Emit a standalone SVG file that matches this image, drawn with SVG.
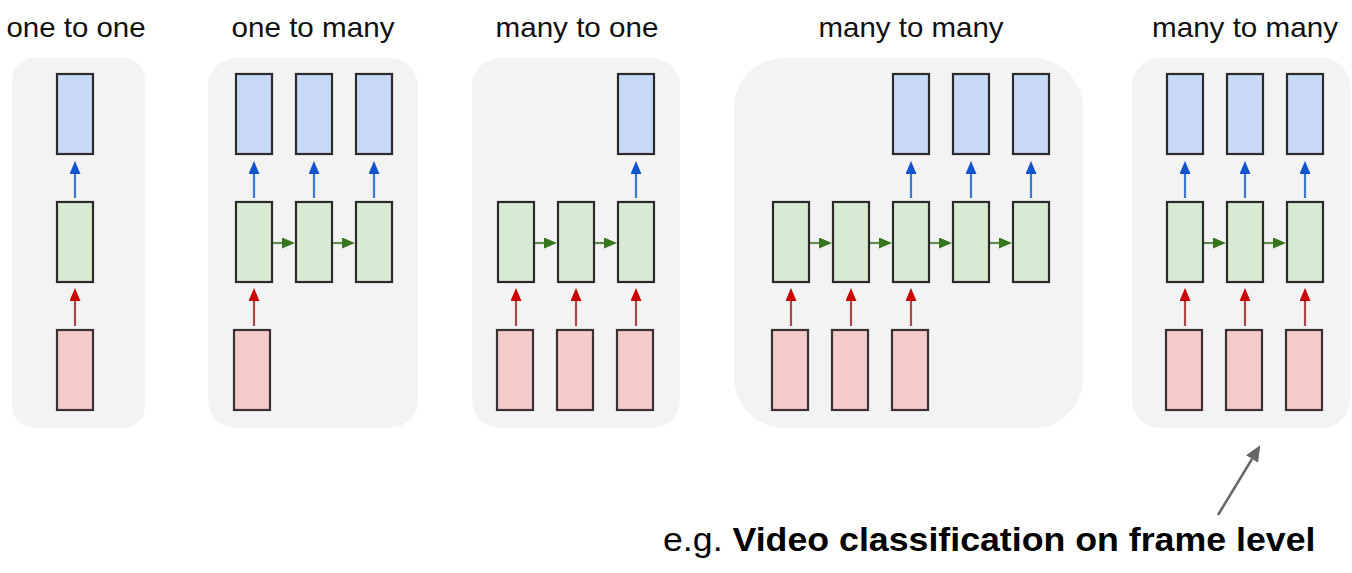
<svg xmlns="http://www.w3.org/2000/svg" width="1352" height="573" viewBox="0 0 1352 573">
<style>
.title{font-family:"Liberation Sans",Arial,sans-serif;font-size:28px;fill:#111;text-anchor:middle}
.panel{fill:#f3f3f3}
.b{fill:#c9daf8;stroke:#2b2b2b;stroke-width:2.2}
.g{fill:#d9ead3;stroke:#2b2b2b;stroke-width:2.2}
.r{fill:#f4cccc;stroke:#3d3030;stroke-width:2.2}
.ab{stroke:#3d78d0;stroke-width:2.2;marker-end:url(#mb)}
.ag{stroke:#5e8a4e;stroke-width:2.2;marker-end:url(#mg)}
.ar{stroke:#a84848;stroke-width:2.2;marker-end:url(#mr)}
.bot{font-family:"Liberation Sans",Arial,sans-serif;font-size:33px;fill:#000}
</style>
<defs>
<marker id="mb" viewBox="0 0 13 11" markerWidth="13" markerHeight="11" refX="0" refY="5.5" orient="auto" markerUnits="userSpaceOnUse"><path d="M0,0 L13,5.5 L0,11 z" fill="#1155cc"/></marker>
<marker id="mg" viewBox="0 0 13 11" markerWidth="13" markerHeight="11" refX="0" refY="5.5" orient="auto" markerUnits="userSpaceOnUse"><path d="M0,0 L13,5.5 L0,11 z" fill="#38761d"/></marker>
<marker id="mr" viewBox="0 0 13 11" markerWidth="13" markerHeight="11" refX="0" refY="5.5" orient="auto" markerUnits="userSpaceOnUse"><path d="M0,0 L13,5.5 L0,11 z" fill="#cc0000"/></marker>
<marker id="mk" viewBox="0 0 16 14" markerWidth="16" markerHeight="14" refX="0" refY="7" orient="auto" markerUnits="userSpaceOnUse"><path d="M0,0 L16,7 L0,14 z" fill="#666"/></marker>
</defs>
<rect width="1352" height="573" fill="#fff"/>

<g id="titles">
<text class="title" x="76" y="37" textLength="139" lengthAdjust="spacingAndGlyphs">one to one</text>
<text class="title" x="313" y="37" textLength="163" lengthAdjust="spacingAndGlyphs">one to many</text>
<text class="title" x="577" y="37" textLength="163" lengthAdjust="spacingAndGlyphs">many to one</text>
<text class="title" x="911" y="37" textLength="185" lengthAdjust="spacingAndGlyphs">many to many</text>
<text class="title" x="1245" y="37" textLength="186" lengthAdjust="spacingAndGlyphs">many to many</text>
</g>

<g id="panels">
<rect class="panel" x="12" y="58" width="133" height="370" rx="22"/>
<rect class="panel" x="208" y="58" width="210" height="370" rx="28"/>
<rect class="panel" x="472" y="58" width="208" height="370" rx="28"/>
<rect class="panel" x="734" y="58" width="349" height="370" rx="50"/>
<rect class="panel" x="1132" y="58" width="218" height="370" rx="28"/>
</g>

<g id="connectors">
<line class="ab" x1="75" y1="198" x2="75" y2="174"/>
<line class="ar" x1="75" y1="326" x2="75" y2="301"/>
<line class="ab" x1="254" y1="198" x2="254" y2="174"/>
<line class="ab" x1="314" y1="198" x2="314" y2="174"/>
<line class="ab" x1="374" y1="198" x2="374" y2="174"/>
<line class="ag" x1="273" y1="243" x2="282" y2="243"/>
<line class="ag" x1="333" y1="243" x2="342" y2="243"/>
<line class="ar" x1="254" y1="326" x2="254" y2="301"/>
<line class="ab" x1="636" y1="198" x2="636" y2="174"/>
<line class="ag" x1="535" y1="243" x2="544" y2="243"/>
<line class="ag" x1="595" y1="243" x2="604" y2="243"/>
<line class="ar" x1="516" y1="326" x2="516" y2="301"/>
<line class="ar" x1="576" y1="326" x2="576" y2="301"/>
<line class="ar" x1="636" y1="326" x2="636" y2="301"/>
<line class="ab" x1="911" y1="198" x2="911" y2="174"/>
<line class="ab" x1="971" y1="198" x2="971" y2="174"/>
<line class="ab" x1="1031" y1="198" x2="1031" y2="174"/>
<line class="ag" x1="810" y1="243" x2="819" y2="243"/>
<line class="ag" x1="870" y1="243" x2="879" y2="243"/>
<line class="ag" x1="930" y1="243" x2="939" y2="243"/>
<line class="ag" x1="990" y1="243" x2="999" y2="243"/>
<line class="ar" x1="791" y1="326" x2="791" y2="301"/>
<line class="ar" x1="851" y1="326" x2="851" y2="301"/>
<line class="ar" x1="911" y1="326" x2="911" y2="301"/>
<line class="ab" x1="1185" y1="198" x2="1185" y2="174"/>
<line class="ab" x1="1245" y1="198" x2="1245" y2="174"/>
<line class="ab" x1="1305" y1="198" x2="1305" y2="174"/>
<line class="ag" x1="1204" y1="243" x2="1213" y2="243"/>
<line class="ag" x1="1264" y1="243" x2="1273" y2="243"/>
<line class="ar" x1="1185" y1="326" x2="1185" y2="301"/>
<line class="ar" x1="1245" y1="326" x2="1245" y2="301"/>
<line class="ar" x1="1305" y1="326" x2="1305" y2="301"/>
<line x1="1218" y1="515" x2="1252" y2="459" stroke="#666" stroke-width="2.5" marker-end="url(#mk)"/>
</g>

<g id="one-to-one">
<rect class="b" x="57" y="74" width="36" height="80"/>
<rect class="g" x="57" y="202" width="36" height="80"/>
<rect class="r" x="57" y="330" width="36" height="80"/>
</g>

<g id="one-to-many">
<rect class="b" x="236" y="74" width="36" height="80"/>
<rect class="b" x="296" y="74" width="36" height="80"/>
<rect class="b" x="356" y="74" width="36" height="80"/>
<rect class="g" x="236" y="202" width="36" height="80"/>
<rect class="g" x="296" y="202" width="36" height="80"/>
<rect class="g" x="356" y="202" width="36" height="80"/>
<rect class="r" x="234" y="330" width="36" height="80"/>
</g>

<g id="many-to-one">
<rect class="b" x="618" y="74" width="36" height="80"/>
<rect class="g" x="498" y="202" width="36" height="80"/>
<rect class="g" x="558" y="202" width="36" height="80"/>
<rect class="g" x="618" y="202" width="36" height="80"/>
<rect class="r" x="497" y="330" width="36" height="80"/>
<rect class="r" x="557" y="330" width="36" height="80"/>
<rect class="r" x="617" y="330" width="36" height="80"/>
</g>

<g id="many-to-many-1">
<rect class="b" x="893" y="74" width="36" height="80"/>
<rect class="b" x="953" y="74" width="36" height="80"/>
<rect class="b" x="1013" y="74" width="36" height="80"/>
<rect class="g" x="773" y="202" width="36" height="80"/>
<rect class="g" x="833" y="202" width="36" height="80"/>
<rect class="g" x="893" y="202" width="36" height="80"/>
<rect class="g" x="953" y="202" width="36" height="80"/>
<rect class="g" x="1013" y="202" width="36" height="80"/>
<rect class="r" x="772" y="330" width="36" height="80"/>
<rect class="r" x="832" y="330" width="36" height="80"/>
<rect class="r" x="892" y="330" width="36" height="80"/>
</g>

<g id="many-to-many-2">
<rect class="b" x="1167" y="74" width="36" height="80"/>
<rect class="b" x="1227" y="74" width="36" height="80"/>
<rect class="b" x="1287" y="74" width="36" height="80"/>
<rect class="g" x="1167" y="202" width="36" height="80"/>
<rect class="g" x="1227" y="202" width="36" height="80"/>
<rect class="g" x="1287" y="202" width="36" height="80"/>
<rect class="r" x="1166" y="330" width="36" height="80"/>
<rect class="r" x="1226" y="330" width="36" height="80"/>
<rect class="r" x="1286" y="330" width="36" height="80"/>
</g>

<g id="caption">
<text class="bot" transform="translate(663,551) scale(1.083,1)" x="0" y="0">e.g. <tspan font-weight="bold">Video classification on frame level</tspan></text>
</g>
</svg>
